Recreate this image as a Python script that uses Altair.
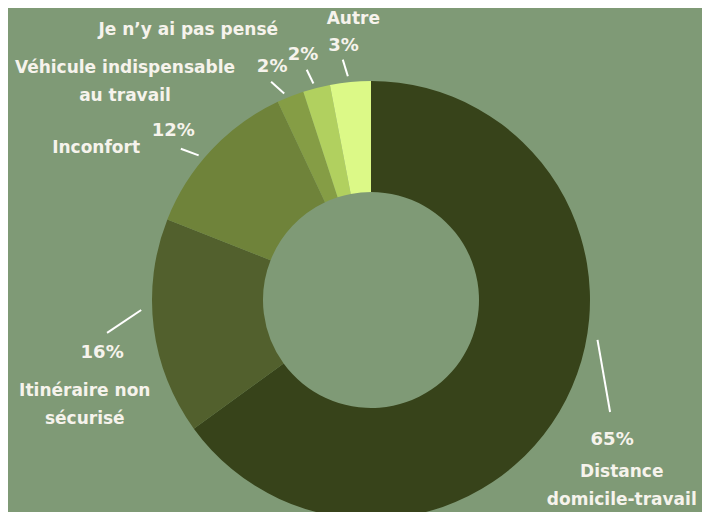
import math
import altair as alt
import pandas as pd

# ---- data ----
categories = ["Distance domicile-travail", "Itinéraire non sécurisé", "Inconfort",
              "Véhicule indispensable au travail", "Je n’y ai pas pensé", "Autre"]
values = [65, 16, 12, 2, 2, 3]
name_labels = [["Distance", "domicile-travail"], ["Itinéraire non", "sécurisé"], ["Inconfort"],
               ["Véhicule indispensable", "au travail"], ["Je n’y ai pas pensé"], ["Autre"]]
pct_labels = ["65%", "16%", "12%", "2%", "2%", "3%"]
colors = ["#37431a", "#52602d", "#6f833a", "#859d45", "#b1d05f", "#dcf987"]

# ---- layout (polar, relative to each slice's mid-angle) ----
W, H = 694, 504
CX, CY = 363, 292
R_IN, R_OUT = 108, 219
LINE_H = 28
# (angle offset deg, radius) for line start, line end, percent text, name block centre
line_start = [(-17, 230), (4.7, 230), (-3.2, 225), (-1.2, 224), (-0.5, 224), (-0.5, 225)]
line_end = [(-1.9, 264), (0.1, 266), (-4.7, 243), (-3.0, 240), (-1.2, 239), (-1.3, 242)]
pct_pos = [(3.2, 279), (-3.9, 274), (-2.7, 260), (-1.4, 253), (-1.1, 254), (-0.8, 255)]
name_pos = [(9.5, 312), (-13.0, 305), (-14.3, 314), (-26.8, 329), (-19.7, 326), (1.8, 282)]


def polar(a_deg, r):
    a = math.radians(a_deg)
    return CX + r * math.sin(a), CY - r * math.cos(a)


total = sum(values)
cum = 0
mids = []
for v in values:
    mids.append((cum + v / 2) / total * 360)
    cum += v

arc_df = pd.DataFrame({"cat": categories, "value": values, "idx": list(range(len(values)))})

line_rows, pct_rows, name_rows = [], [], []
for i in range(len(values)):
    x1, y1 = polar(mids[i] + line_start[i][0], line_start[i][1])
    x2, y2 = polar(mids[i] + line_end[i][0], line_end[i][1])
    line_rows.append({"x": x1, "y": y1, "x2": x2, "y2": y2})
    px, py = polar(mids[i] + pct_pos[i][0], pct_pos[i][1])
    pct_rows.append({"x": px, "y": py, "t": pct_labels[i]})
    nx, ny = polar(mids[i] + name_pos[i][0], name_pos[i][1])
    n = len(name_labels[i])
    for k, t in enumerate(name_labels[i]):
        name_rows.append({"x": nx, "y": ny + (k - (n - 1) / 2) * LINE_H, "t": t})

arcs = alt.Chart(arc_df).mark_arc(innerRadius=R_IN, outerRadius=R_OUT, stroke=None).encode(
    theta=alt.Theta("value:Q", stack=True),
    color=alt.Color("cat:N", scale=alt.Scale(domain=categories, range=colors), legend=None),
    order=alt.Order("idx:Q"),
    x=alt.value(CX),
    y=alt.value(CY),
)

lines = alt.Chart(pd.DataFrame(line_rows)).mark_rule(color="#ffffff", strokeWidth=2).encode(
    x=alt.X("x:Q", scale=None, axis=None),
    y=alt.Y("y:Q", scale=None, axis=None),
    x2="x2:Q",
    y2="y2:Q",
)

pcts = alt.Chart(pd.DataFrame(pct_rows)).mark_text(
    font="DejaVu Sans", fontWeight="bold", fontSize=18, color="#f6f3ec",
    align="center", baseline="middle",
).encode(
    x=alt.X("x:Q", scale=None, axis=None),
    y=alt.Y("y:Q", scale=None, axis=None),
    text="t:N",
)

names = alt.Chart(pd.DataFrame(name_rows)).mark_text(
    font="DejaVu Sans", fontWeight="bold", fontSize=17, color="#f6f3ec",
    align="center", baseline="middle",
).encode(
    x=alt.X("x:Q", scale=None, axis=None),
    y=alt.Y("y:Q", scale=None, axis=None),
    text="t:N",
)

chart = alt.layer(arcs, lines, pcts, names).properties(
    width=W, height=H, background="#7f9a76", padding=0,
    autosize=alt.AutoSizeParams(type="none"),
).configure_view(strokeWidth=0)

chart.save("out.html", embed_options={"renderer": "svg", "actions": False})
